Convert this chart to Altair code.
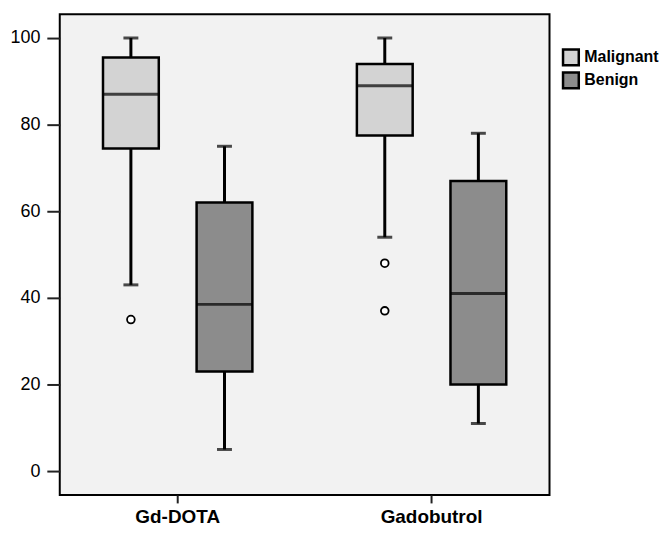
import altair as alt
import pandas as pd

# --- data ---
groups = ["Gd-DOTA", "Gd-DOTA", "Gadobutrol", "Gadobutrol"]
types = ["Malignant", "Benign", "Malignant", "Benign"]
whisk_lo = [43, 5, 54, 11]
q1 = [74.5, 23, 77.5, 20]
median = [87, 38.5, 89, 41]
q3 = [95.5, 62, 94, 67]
whisk_hi = [100, 75, 100, 78]

out_groups = ["Gd-DOTA", "Gadobutrol", "Gadobutrol"]
out_types = ["Malignant", "Malignant", "Malignant"]
out_values = [35, 48, 37]

group_order = ["Gd-DOTA", "Gadobutrol"]
type_order = ["Malignant", "Benign"]
type_colors = ["#d3d3d3", "#8c8c8c"]
y_ticks = [0, 20, 40, 60, 80, 100]

stats = pd.DataFrame({
    "group": groups, "type": types, "lo": whisk_lo, "q1": q1,
    "median": median, "q3": q3, "hi": whisk_hi,
})
outl = pd.DataFrame({"group": out_groups, "type": out_types, "value": out_values})

FONT = "Liberation Sans"

x_enc = alt.X("group:N", sort=group_order,
              scale=alt.Scale(domain=group_order, paddingInner=0.2, paddingOuter=0.0645),
              axis=alt.Axis(title=None, labelAngle=0, labelFontSize=19, labelFontWeight="bold",
                            labelColor="black", tickSize=8, tickWidth=2, tickColor="#222",
                            domain=False, labelPadding=5, labelFont=FONT))
xo_enc = alt.XOffset("type:N", sort=type_order,
                     scale=alt.Scale(domain=type_order, paddingInner=0.404, paddingOuter=0.287))
y_scale = alt.Scale(domain=[-5.5, 105.5], nice=False, zero=False)
y_axis = alt.Axis(title=None, values=y_ticks, grid=False, domain=False, labelFontSize=18,
                  labelColor="black", tickSize=13, tickWidth=2, tickColor="#222",
                  labelPadding=7, labelFont=FONT)

base = alt.Chart(stats)

whisk_low = base.mark_rule(color="black", strokeWidth=3).encode(
    x=x_enc, xOffset=xo_enc,
    y=alt.Y("lo:Q", scale=y_scale, axis=y_axis), y2="q1:Q")
whisk_high = base.mark_rule(color="black", strokeWidth=3).encode(
    x=x_enc, xOffset=xo_enc,
    y=alt.Y("q3:Q", scale=y_scale, axis=y_axis), y2="hi:Q")

box = base.mark_bar(stroke="black", strokeWidth=2.5).encode(
    x=x_enc, xOffset=xo_enc,
    y=alt.Y("q1:Q", scale=y_scale, axis=y_axis), y2="q3:Q",
    color=alt.Color("type:N", sort=type_order,
                    scale=alt.Scale(domain=type_order, range=type_colors),
                    legend=alt.Legend(title=None, orient="none", legendX=504, legendY=34,
                                      symbolType="square", symbolSize=250,
                                      symbolStrokeColor="black", symbolStrokeWidth=2.5,
                                      labelFontSize=16, labelFontWeight="bold",
                                      labelColor="black", labelFont=FONT,
                                      rowPadding=-13, labelOffset=4, padding=0)))

med = base.mark_tick(color="black", thickness=3, size=56, orient="horizontal").encode(
    x=x_enc, xOffset=xo_enc, y=alt.Y("median:Q", scale=y_scale, axis=y_axis))
cap_lo = base.mark_tick(color="black", thickness=3, size=15, orient="horizontal").encode(
    x=x_enc, xOffset=xo_enc, y=alt.Y("lo:Q", scale=y_scale, axis=y_axis))
cap_hi = base.mark_tick(color="black", thickness=3, size=15, orient="horizontal").encode(
    x=x_enc, xOffset=xo_enc, y=alt.Y("hi:Q", scale=y_scale, axis=y_axis))

points = alt.Chart(outl).mark_point(shape="circle", size=60, filled=False, color="black",
                                    fill="white", fillOpacity=1, strokeWidth=1.8).encode(
    x=x_enc, xOffset=xo_enc, y=alt.Y("value:Q", scale=y_scale, axis=y_axis))

chart = alt.layer(whisk_low, whisk_high, box, med, cap_lo, cap_hi, points).properties(
    width=492, height=483, background="white",
    padding={"left": 1, "top": 5, "right": 0, "bottom": 0}
).configure_view(
    fill="#f2f2f2", stroke="black", strokeWidth=2
)

chart.save("out.html", embed_options={"renderer": "svg", "actions": False})
